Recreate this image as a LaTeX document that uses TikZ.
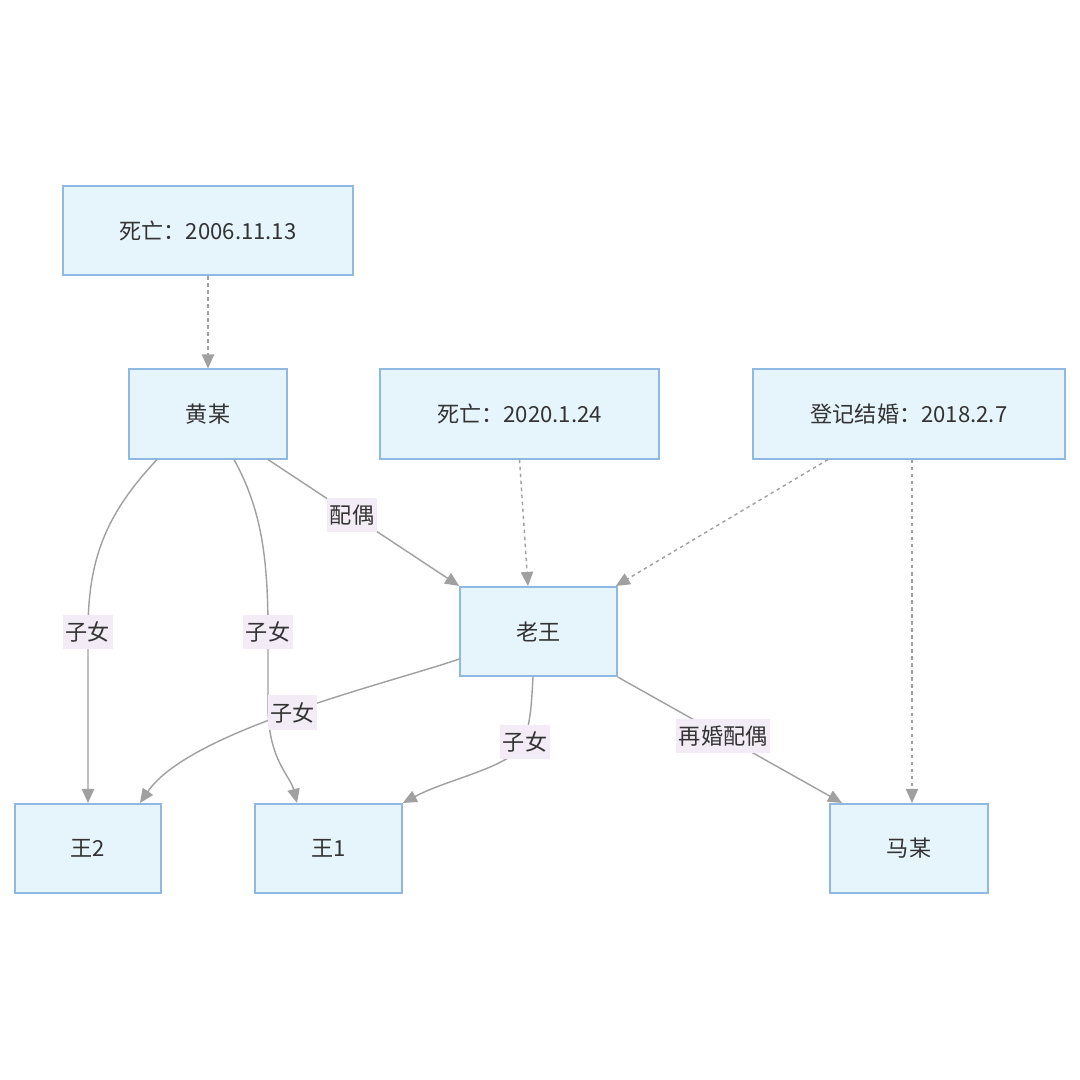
\documentclass[tikz,border=0pt]{standalone}
\usepackage{fontspec}
\setmainfont{Noto Sans CJK SC}
\usetikzlibrary{arrows.meta}
\definecolor{boxfill}{HTML}{E6F4FC}
\definecolor{boxline}{HTML}{8FB8E2}
\definecolor{edgecol}{HTML}{A0A0A0}
\definecolor{lblbg}{HTML}{F3ECF7}
\definecolor{txt}{HTML}{333333}
\begin{document}
\begin{tikzpicture}[x=0.02cm,y=-0.02cm,
  box/.style={draw=boxline,fill=boxfill,line width=0.9pt,minimum height=1.79cm,
    minimum width=#1,inner sep=0pt,text=txt,font=\fontsize{12.6pt}{15pt}\selectfont},
  edge/.style={draw=edgecol,line width=0.8pt,-{Triangle[length=8pt,width=7pt]}},
  dedge/.style={edge,dash pattern=on 2pt off 2pt},
  lbl/.style={fill=lblbg,inner xsep=1.5pt,inner ysep=4pt,text=txt,font=\fontsize{12.6pt}{15pt}\selectfont}]
\useasboundingbox[fill=white] (0,0) rectangle (1080,1080);

\node[box=5.8cm]  (d1) at (208,230.5) {死亡：2006.11.13};
\node[box=3.16cm] (huang) at (208,414) {黄某};
\node[box=5.58cm] (d2) at (519.5,414) {死亡：2020.1.24};
\node[box=6.24cm] (d3) at (909,414) {登记结婚：2018.2.7};
\node[box=3.14cm] (lw) at (538.5,631.5) {老王};
\node[box=2.92cm] (w2) at (88,848.5) {王2};
\node[box=2.94cm] (w1) at (328.5,848.5) {王1};
\node[box=3.16cm] (ma) at (909,848.5) {马某};

% dashed
\draw[dedge] (d1.south) -- (huang.north);
\draw[dedge] (d2.south) -- ([xshift=-0.21cm]lw.north);
\draw[dedge] ([xshift=-1.62cm]d3.south) -- ([xshift=-0.04cm]lw.north east);
\draw[dedge] ([xshift=0.06cm]d3.south) -- ([xshift=0.06cm]ma.north);

% solid
\draw[edge] ([xshift=-1.02cm]huang.south) .. controls (105,515) and (88,560) .. (88,632)
  node[lbl] {子女} -- (w2.north);
\draw[edge] ([xshift=0.52cm]huang.south) .. controls (262,510) and (268,560) .. (268,632)
  node[lbl] {子女} -- (268,705) .. controls (268,760) and (290,775) .. ([xshift=-0.63cm]w1.north);
\draw[edge] ([xshift=1.2cm]huang.south) -- node[lbl,pos=0.44] {配偶} (lw.north west);
\draw[edge] ([yshift=-0.55cm]lw.west) .. controls (390,683) and (190,730) ..
  node[lbl,pos=0.5] {子女} ([xshift=1.04cm]w2.north);
\draw[edge] ([xshift=-0.11cm]lw.south) .. controls (531,712) .. (525,742) node[lbl] {子女}
  .. controls (510,768) and (450,778) .. (w1.north east);
\draw[edge] (lw.south east) -- node[lbl,pos=0.47] {再婚配偶} ([xshift=-1.34cm]ma.north);
\end{tikzpicture}
\end{document}
